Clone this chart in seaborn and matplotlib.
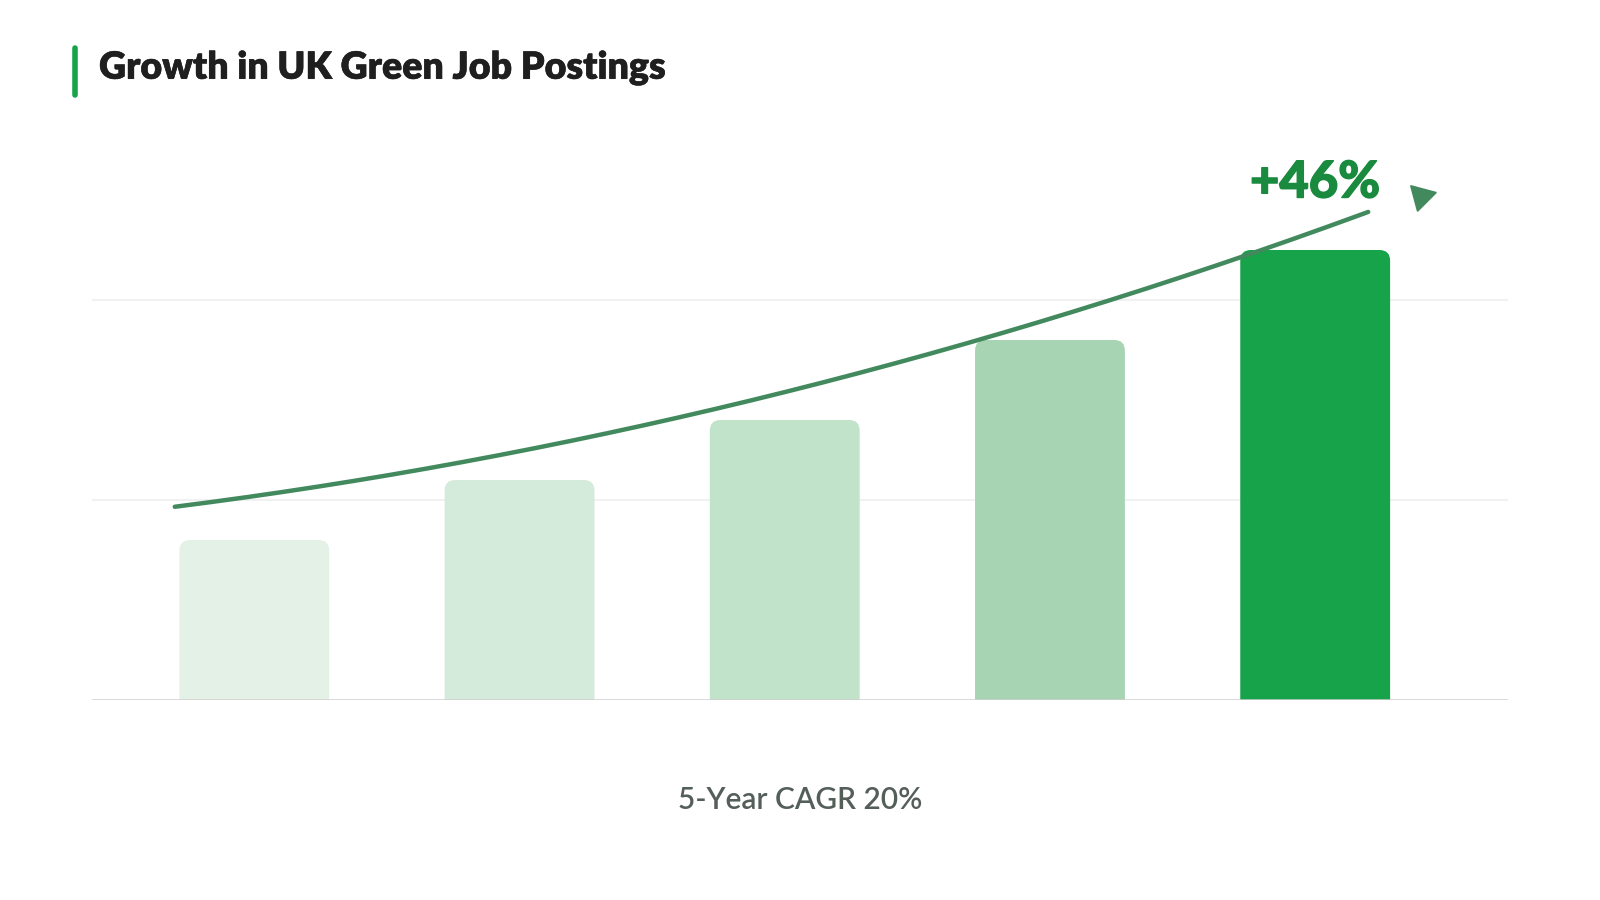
import numpy as np
import pandas as pd
import matplotlib
matplotlib.use('Agg')
import matplotlib.pyplot as plt
import matplotlib.patheffects as pe
import seaborn as sns
from matplotlib.patches import FancyBboxPatch
from matplotlib.lines import Line2D
from matplotlib.markers import MarkerStyle

# data (grid units)
years = ['Y1', 'Y2', 'Y3', 'Y4', 'Y5']
postings = [0.80, 1.10, 1.40, 1.80, 2.25]
bar_colors = ['#e4f1e7', '#d4eadb', '#c1e3ca', '#a7d4b2', '#16a34a']

# trend curve samples (bar-index position, value)
trend_x = [-0.30, 0.21, 1.11, 1.71, 2.16, 2.76, 3.21, 3.72, 4.03, 4.20]
trend_y = [0.978, 1.049, 1.269, 1.443, 1.590, 1.814, 2.005, 2.229, 2.35, 2.43]

df = pd.DataFrame({'year': years, 'postings': postings})

sns.set_theme(style='white')
plt.rcParams['font.family'] = ['Lato', 'DejaVu Sans']

fig = plt.figure(figsize=(16, 9), dpi=100)
fig.set_facecolor('white')
ax = fig.add_axes([92/1600, 200/900, 1416/1600, 560/900])

sns.barplot(data=df, x='year', y='postings', hue='year', palette=bar_colors,
            width=0.565, legend=False, ax=ax, saturation=1)

# swap plain bars for ones with rounded tops
for p in list(ax.patches):
    x0, w, h = p.get_x(), p.get_width(), p.get_height()
    col = p.get_facecolor()
    p.remove()
    ax.add_patch(FancyBboxPatch((x0, -0.2), w, h + 0.2,
                                boxstyle='round,pad=0,rounding_size=0.04',
                                mutation_aspect=265/200, fc=col, ec='none', zorder=2))

ax.set_xlim(-0.612, 4.727)
ax.set_ylim(0, 2.8)

for g in [1, 2]:
    ax.axhline(g, color='#efefef', lw=1.2, zorder=0)
ax.axhline(0, color='#cfcfcf', lw=1.8, zorder=3)

# smoothed trend line
coef = np.polyfit(trend_x, trend_y, 2)
xs = np.linspace(trend_x[0], trend_x[-1], 200)
ax.plot(xs, np.polyval(coef, xs), color='#428a5e', lw=3.2, solid_capstyle='round', zorder=4)
ax.plot([4.40], [2.52], marker=MarkerStyle((3, 0, 45)), ms=22, color='#428a5e',
        ls='none', clip_on=False, zorder=4)

ax.text(4.0, 2.585, '+46%', ha='center', va='center', fontsize=36.5, fontweight='black',
        color='#1a8a3e',
        path_effects=[pe.withStroke(linewidth=1.0, foreground='#1a8a3e')])

ax.set_xticks([])
ax.set_yticks([])
ax.set_xlabel('')
ax.set_ylabel('')
sns.despine(ax=ax, left=True, bottom=True)

fig.add_artist(Line2D([74.5/1600, 74.5/1600], [1-48/900, 1-95/900], color='#16a34a',
                      lw=4, solid_capstyle='round'))
fig.text(99/1600, 1-68/900, 'Growth in UK Green Job Postings', ha='left', va='center',
         fontsize=27, fontweight='heavy', color='#1f1f1f',
         path_effects=[pe.withStroke(linewidth=0.4, foreground='#1f1f1f')])
fig.text(800/1600, 1-800/900, '5-Year CAGR 20%', ha='center', va='center',
         fontsize=21.5, fontweight='semibold', color='#555f5a')

fig.savefig('out.png', dpi=100, facecolor='white')
